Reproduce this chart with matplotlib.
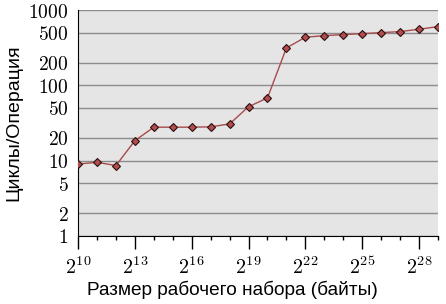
import numpy as np
import matplotlib.pyplot as plt
from matplotlib.ticker import FixedLocator, NullFormatter

plt.rcParams.update({"mathtext.fontset": "cm"})

# размер рабочего набора: степени двойки
exponents = [10, 11, 12, 13, 14, 15, 16, 17, 18, 19,
             20, 21, 22, 23, 24, 25, 26, 27, 28, 29]
cycles = [9.0, 9.5, 8.6, 18.4, 27.8, 27.8, 27.8, 28.1, 30.7, 52,
          68, 314, 435, 457, 472, 486, 501, 517, 556, 602]

y_ticks = [1, 2, 5, 10, 20, 50, 100, 200, 500, 1000]
x_major = [10, 13, 16, 19, 22, 25, 28]

fig = plt.figure(figsize=(4.46, 3.04), dpi=100)
ax = fig.add_axes([0.175, 0.224, 0.807, 0.743])
ax.set_facecolor("#e5e5e5")

ax.plot(exponents, cycles,
        color="#a84a4a",
        linewidth=1,
        marker="D",
        markersize=4,
        markerfacecolor="#b34d4d",
        markeredgecolor="#2a1010",
        markeredgewidth=0.8,
        zorder=3)

ax.set_yscale("log")
ax.set_ylim(1, 1000)
ax.set_xlim(10, 29)

ax.yaxis.set_major_locator(FixedLocator(y_ticks))
ax.yaxis.set_minor_locator(FixedLocator([]))
ax.set_yticklabels(["$%d$" % v for v in y_ticks], fontsize=14)
ax.yaxis.set_minor_formatter(NullFormatter())
ax.tick_params(axis="y", length=0, pad=7)

ax.xaxis.set_major_locator(FixedLocator(x_major))
ax.xaxis.set_minor_locator(FixedLocator(exponents))
ax.set_xticklabels(["$2^{%d}$" % e for e in x_major], fontsize=14.5)
ax.tick_params(axis="x", which="major", direction="out", length=9, width=1, pad=6)
ax.tick_params(axis="x", which="minor", direction="out", length=3, width=1)

ax.grid(axis="y", color="#8c8c8c", linewidth=1)
ax.set_axisbelow(True)

for s in ["top", "right"]:
    ax.spines[s].set_visible(False)
ax.spines["left"].set_color("black")
ax.spines["bottom"].set_color("black")

ax.set_xlabel("Размер рабочего набора (байты)", fontsize=13.7,
              family="Liberation Sans")
ax.xaxis.set_label_coords(0.428, -0.2)
ax.set_ylabel("Циклы/Операция", fontsize=14,
              family="Liberation Sans", labelpad=4)

fig.savefig("out.png", dpi=100)
